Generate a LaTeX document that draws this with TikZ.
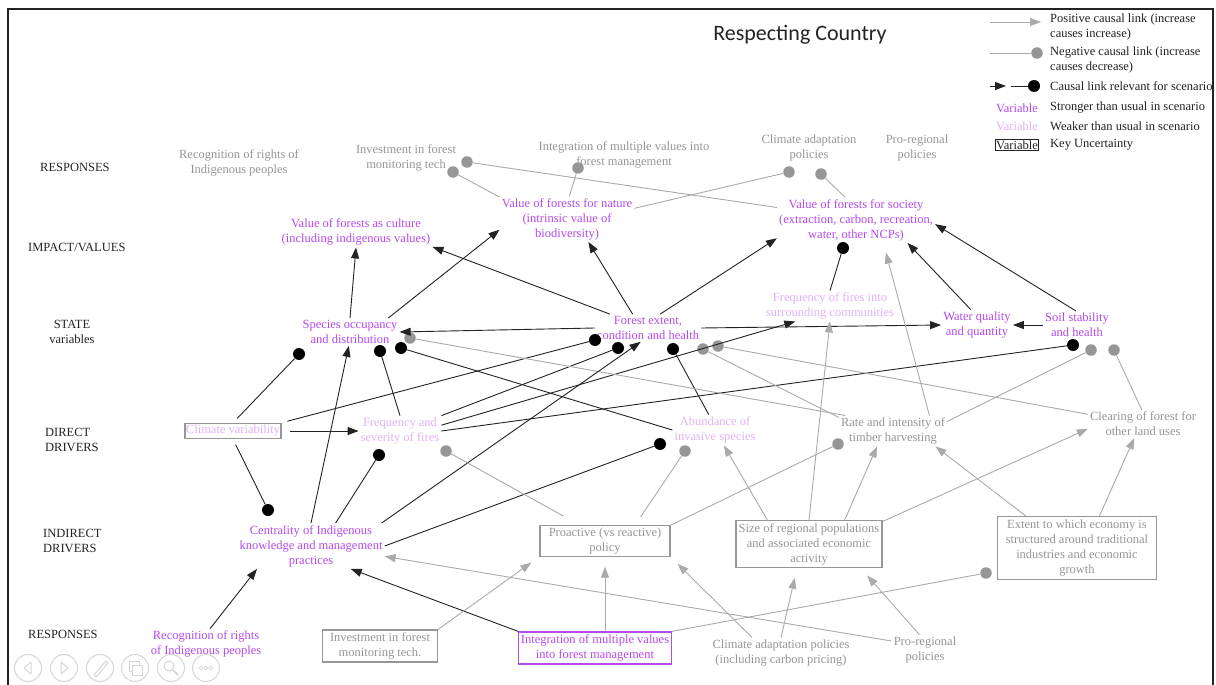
\documentclass[tikz,border=0pt]{standalone}
\usepackage{fontspec}
\setmainfont{Liberation Serif}
\newfontfamily\titlefont{Carlito}
\usetikzlibrary{arrows.meta,calc}
\definecolor{vstrong}{RGB}{180,75,235}
\definecolor{vweak}{RGB}{226,178,246}
\definecolor{gtext}{RGB}{150,150,150}
\definecolor{gline}{RGB}{170,170,170}
\definecolor{gdotc}{RGB}{150,150,150}
\definecolor{gbox}{RGB}{150,150,150}
\definecolor{lblack}{RGB}{35,35,35}
\definecolor{navgray}{RGB}{214,214,214}
\newcommand{\fsz}{\fontsize{12.5}{15}\selectfont}
\begin{document}
\begin{tikzpicture}[x=1pt,y=-1pt,
  lab/.style={align=center,inner sep=2pt,font=\fsz},
  strong/.style={lab,text=vstrong},
  weak/.style={lab,text=vweak},
  grey/.style={lab,text=gtext},
  tier/.style={align=left,inner sep=0pt,font=\fsz,text=lblack,anchor=west},
  kbox/.style={draw=gbox,line width=1.1pt},
  bdot/.style={circle,fill=black,inner sep=0pt,minimum size=12pt},
  gdot/.style={circle,fill=gdotc,inner sep=0pt,minimum size=11.5pt},
  parrow/.style={draw=lblack,line width=0.9pt,-{Triangle[length=11pt,width=8pt]}},
  nline/.style={draw=lblack,line width=0.9pt},
  garrow/.style={draw=gline,line width=0.9pt,-{Triangle[length=11pt,width=8pt]}},
  gnline/.style={draw=gline,line width=0.9pt},
  nav/.style={draw=navgray,line width=1pt},
]
\useasboundingbox (0,0) rectangle (1216,685);
\fill[white] (0,0) rectangle (1216,685);
\draw[line width=1.6pt,lblack] (8,690) -- (8,9) -- (1213,9) -- (1213,690);

% title
\node[font=\titlefont\fontsize{22}{26}\selectfont,text=lblack] (title) at (800,35) {Respecting Country};

% tier labels
\node[tier] (t1) at (40,167) {RESPONSES};
\node[tier] (t2) at (28,247) {IMPACT/VALUES};
\node[lab,text=lblack] (t3) at (72,332) {STATE\\variables};
\node[tier] (t4) at (45,440) {DIRECT\\DRIVERS};
\node[tier] (t5) at (43,541) {INDIRECT\\DRIVERS};
\node[tier] (t6) at (28,634) {RESPONSES};

% responses (top)
\node[grey] (rt1) at (239,163) {Recognition of rights of\\Indigenous peoples};
\node[grey] (rt2) at (406,158) {Investment in forest\\monitoring tech};
\node[grey] (rt3) at (624,155) {Integration of multiple values into\\forest management};
\node[grey] (rt4) at (809,148) {Climate adaptation\\policies};
\node[grey] (rt5) at (917,148) {Pro-regional\\policies};

% impacts / values
\node[strong] (cult) at (356,232) {Value of forests as culture\\(including indigenous values)};
\node[strong] (nat) at (567,219) {Value of forests for nature\\(intrinsic value of\\biodiversity)};
\node[strong] (soc) at (856,220) {Value of forests for society\\(extraction, carbon, recreation,\\water, other NCPs)};

% state variables
\node[strong] (spec) at (350,332) {Species occupancy\\and distribution};
\node[strong] (fe) at (648,328) {Forest extent,\\condition and health};
\node[weak] (ffc) at (830,306) {Frequency of fires into\\surrounding communities};
\node[strong] (wq) at (977,325) {Water quality\\and quantity};
\node[strong] (soil) at (1077,325) {Soil stability\\and health};

% direct drivers
\node[weak,kbox,inner xsep=1pt,inner ysep=2pt] (cv) at (233,431) {Climate variability};
\node[weak] (fsev) at (400,431) {Frequency and\\severity of fires};
\node[weak] (inv) at (715,430) {Abundance of\\invasive species};
\node[grey] (timb) at (893,431) {Rate and intensity of\\timber harvesting};
\node[grey] (clr) at (1143,424) {Clearing of forest for\\other land uses};

% indirect drivers
\node[strong] (cent) at (311,546) {Centrality of Indigenous\\knowledge and management\\practices};
\node[grey,kbox,minimum width=130pt,minimum height=29pt] (pro) at (605,541) {Proactive (vs reactive)\\policy};
\node[grey,kbox,minimum width=146pt,minimum height=47pt] (size) at (809,544) {Size of regional populations\\and associated economic\\activity};
\node[grey,kbox,minimum width=159pt,minimum height=63pt] (ext) at (1077,548) {Extent to which economy is\\structured around traditional\\industries and economic\\growth};

% responses (bottom)
\node[strong] (rb1) at (206,644) {Recognition of rights\\of Indigenous peoples};
\node[grey,kbox,minimum width=115pt,minimum height=32pt] (rb2) at (380,646) {Investment in forest\\monitoring tech.};
\node[strong,draw=vstrong,line width=1.1pt,minimum width=152pt,minimum height=32pt] (rb3) at (595,648) {Integration of multiple values\\into forest management};
\node[grey] (rb4) at (781,653) {Climate adaptation policies\\(including carbon pricing)};
\node[grey] (rb5) at (925,650) {Pro-regional\\policies};

% link end dots
\node[gdot] (g1) at (453,172) {};
\node[gdot] (g2) at (467,162) {};
\node[gdot] (g3) at (578,168) {};
\node[gdot] (g4) at (789,172) {};
\node[gdot] (g5) at (821,174) {};
\node[bdot] (bs) at (843,248) {};
\node[bdot] (b1) at (299,354) {};
\node[bdot] (b2) at (380,351) {};
\node[bdot] (b3) at (401,348) {};
\node[gdot] (g6) at (410,338) {};
\node[bdot] (b4) at (595,340) {};
\node[bdot] (b5) at (618,348) {};
\node[bdot] (b6) at (673,349) {};
\node[gdot] (g7) at (703,349) {};
\node[gdot] (g8) at (718,346) {};
\node[bdot] (b7) at (1073,345) {};
\node[gdot] (g9) at (1091,350) {};
\node[gdot] (g10) at (1114,350) {};
\node[bdot] (b8) at (379,455) {};
\node[gdot] (g11) at (446,451) {};
\node[bdot] (b9) at (660,444) {};
\node[gdot] (g12) at (685,451) {};
\node[gdot] (g13) at (838,444) {};
\node[bdot] (b10) at (268,510) {};
\node[gdot] (g14) at (986,573) {};

% responses fed back from values
\draw[gnline] (nat.162) -- (g1);
\draw[gnline] (soc.171) -- (g2);
\draw[gnline] (nat.84) -- (g3);
\draw[gnline] (nat.9) -- (g4);
\draw[gnline] (soc.116) -- (g5);

% state -> values
\draw[parrow] (spec.north) -- (cult.south);
\draw[parrow] (spec.20) -- (nat.189);
\draw[parrow] (fe.160) -- (cult.-11);
\draw[parrow] (fe.138) -- (nat.-47);
\draw[parrow] (fe.49) -- (soc.193);
\draw[nline] (ffc.north) -- (bs);
\draw[parrow] (wq.112) -- (soc.-24);
\draw[parrow] (soil.95) -- (soc.-3);

% links among state variables
\draw[parrow] (fe.west) -- (spec.east);
\draw[parrow] (fe.east) -- (wq.west);
\draw[parrow] (soil.west) -- (wq.east);

% direct drivers -> state
\draw[parrow,shorten <=8pt] (cv.east) -- (fsev.west);
\draw[nline,shorten <=6pt] (cv.north) -- (b1);
\draw[nline,shorten <=6pt] (cv.north east) -- (b4);
\draw[nline] (fsev.north) -- (b2);
\draw[nline] (fsev.north east) -- (b5);
\draw[parrow] (fsev.8) -- (ffc.204);
\draw[nline] (fsev.east) -- (b7);
\draw[nline] (inv.west) -- (b3);
\draw[nline] (inv.112) -- (b6);
\draw[nline,shorten <=6pt] (cv.south) -- (b10);
\draw[garrow,shorten >=10pt] (timb.23) -- (soc.-40);
\draw[gnline] (timb.162) -- (g6);
\draw[gnline] (timb.166) -- (g7);
\draw[gnline] (timb.10) -- (g9);
\draw[gnline] (clr.170) -- (g8);
\draw[gnline] (clr.95) -- (g10);

% indirect drivers
\draw[nline] (cent.43) -- (b8);
\draw[nline] (cent.east) -- (b9);
\draw[parrow] (cent.18) -- (fe.242);
\draw[parrow] (cent.north) -- (spec.265);
\draw[gnline,shorten <=19pt] ([xshift=-25pt]pro.north) -- (g11);
\draw[gnline,shorten <=10pt] ([xshift=30pt]pro.north) -- (g12);
\draw[gnline] (pro.north east) -- (g13);
\draw[garrow] (size.150) -- (inv.-60);
\draw[garrow] (size.34) -- (timb.224);
\draw[garrow] (size.north) -- (ffc.south);
\draw[garrow] (size.17) -- (clr.185);
\draw[garrow] (ext.148) -- (timb.-20);
\draw[garrow] (ext.55) -- (clr.238);

% responses (bottom) -> indirect drivers
\draw[parrow] (rb1.75) -- (cent.203);
\draw[parrow] (rb3.north west) -- (cent.-30);
\draw[garrow,shorten >=10pt] (rb2.north east) -- (pro.south west);
\draw[garrow,shorten >=10pt] ([xshift=10pt]rb3.north) -- (pro.south);
\draw[garrow,shorten >=10pt] (rb4.152) -- (pro.south east);
\draw[garrow,shorten >=10pt] (rb4.north) -- ([xshift=-12pt]size.south);
\draw[garrow,shorten >=10pt] (rb5.110) -- ([xshift=-22pt]size.south east);
\draw[garrow] (rb5.165) -- (cent.-8);
\draw[gnline] (rb3.north east) -- (g14);

% legend
\coordinate (la1) at (990,22); \coordinate (la2) at (1041,22);
\draw[garrow] (la1) -- (la2);
\node[lab,anchor=west,align=left,text=lblack] (lt1) at (1048,27) {Positive causal link (increase\\causes increase)};
\coordinate (lb1) at (990,53); \node[gdot] (lbd) at (1037,53) {};
\draw[gnline] (lb1) -- (lbd);
\node[lab,anchor=west,align=left,text=lblack] (lt2) at (1048,60) {Negative causal link (increase\\causes decrease)};
\coordinate (lc1) at (990,86); \coordinate (lc2) at (1006,86);
\draw[parrow] (lc1) -- (lc2);
\coordinate (lc3) at (1011,86); \node[bdot] (lcd) at (1034,86) {};
\draw[nline] (lc3) -- (lcd);
\node[lab,anchor=west,text=lblack] (lt3) at (1048,86) {Causal link relevant for scenario};
\node[strong] (lv1) at (1017,108) {Variable};
\node[lab,anchor=west,text=lblack] (lt4) at (1048,108) {Stronger than usual in scenario};
\node[weak] (lv2) at (1017,126) {Variable};
\node[lab,anchor=west,text=lblack] (lt5) at (1048,126) {Weaker than usual in scenario};
\node[lab,draw=lblack,line width=1pt,inner xsep=1pt,inner ysep=1.5pt,text=lblack] (lv3) at (1017,145) {Variable};
\node[lab,anchor=west,text=lblack] (lt6) at (1048,145) {Key Uncertainty};

% slide navigation buttons
\foreach \cx in {28,64,100,135,171,206} \draw[nav] (\cx,668) circle (13.5);
\draw[nav,line join=round] (31,662) -- (24,668) -- (31,674) -- cycle;
\draw[nav,line join=round] (61,662) -- (68,668) -- (61,674) -- cycle;
\draw[nav] (94,675) -- (106,661) -- (108,663) -- (96,677) -- cycle;
\draw[nav] (129,661) rectangle (139,671);
\draw[nav,fill=white] (132,665) rectangle (142,675);
\draw[nav] (169,666) circle (5);
\draw[nav,line width=1.6pt] (173,670) -- (178,675);
\foreach \dx in {-5,0,5} \draw[nav,line width=0.7pt] (206+\dx,668) circle (1.8);
\end{tikzpicture}
\end{document}
